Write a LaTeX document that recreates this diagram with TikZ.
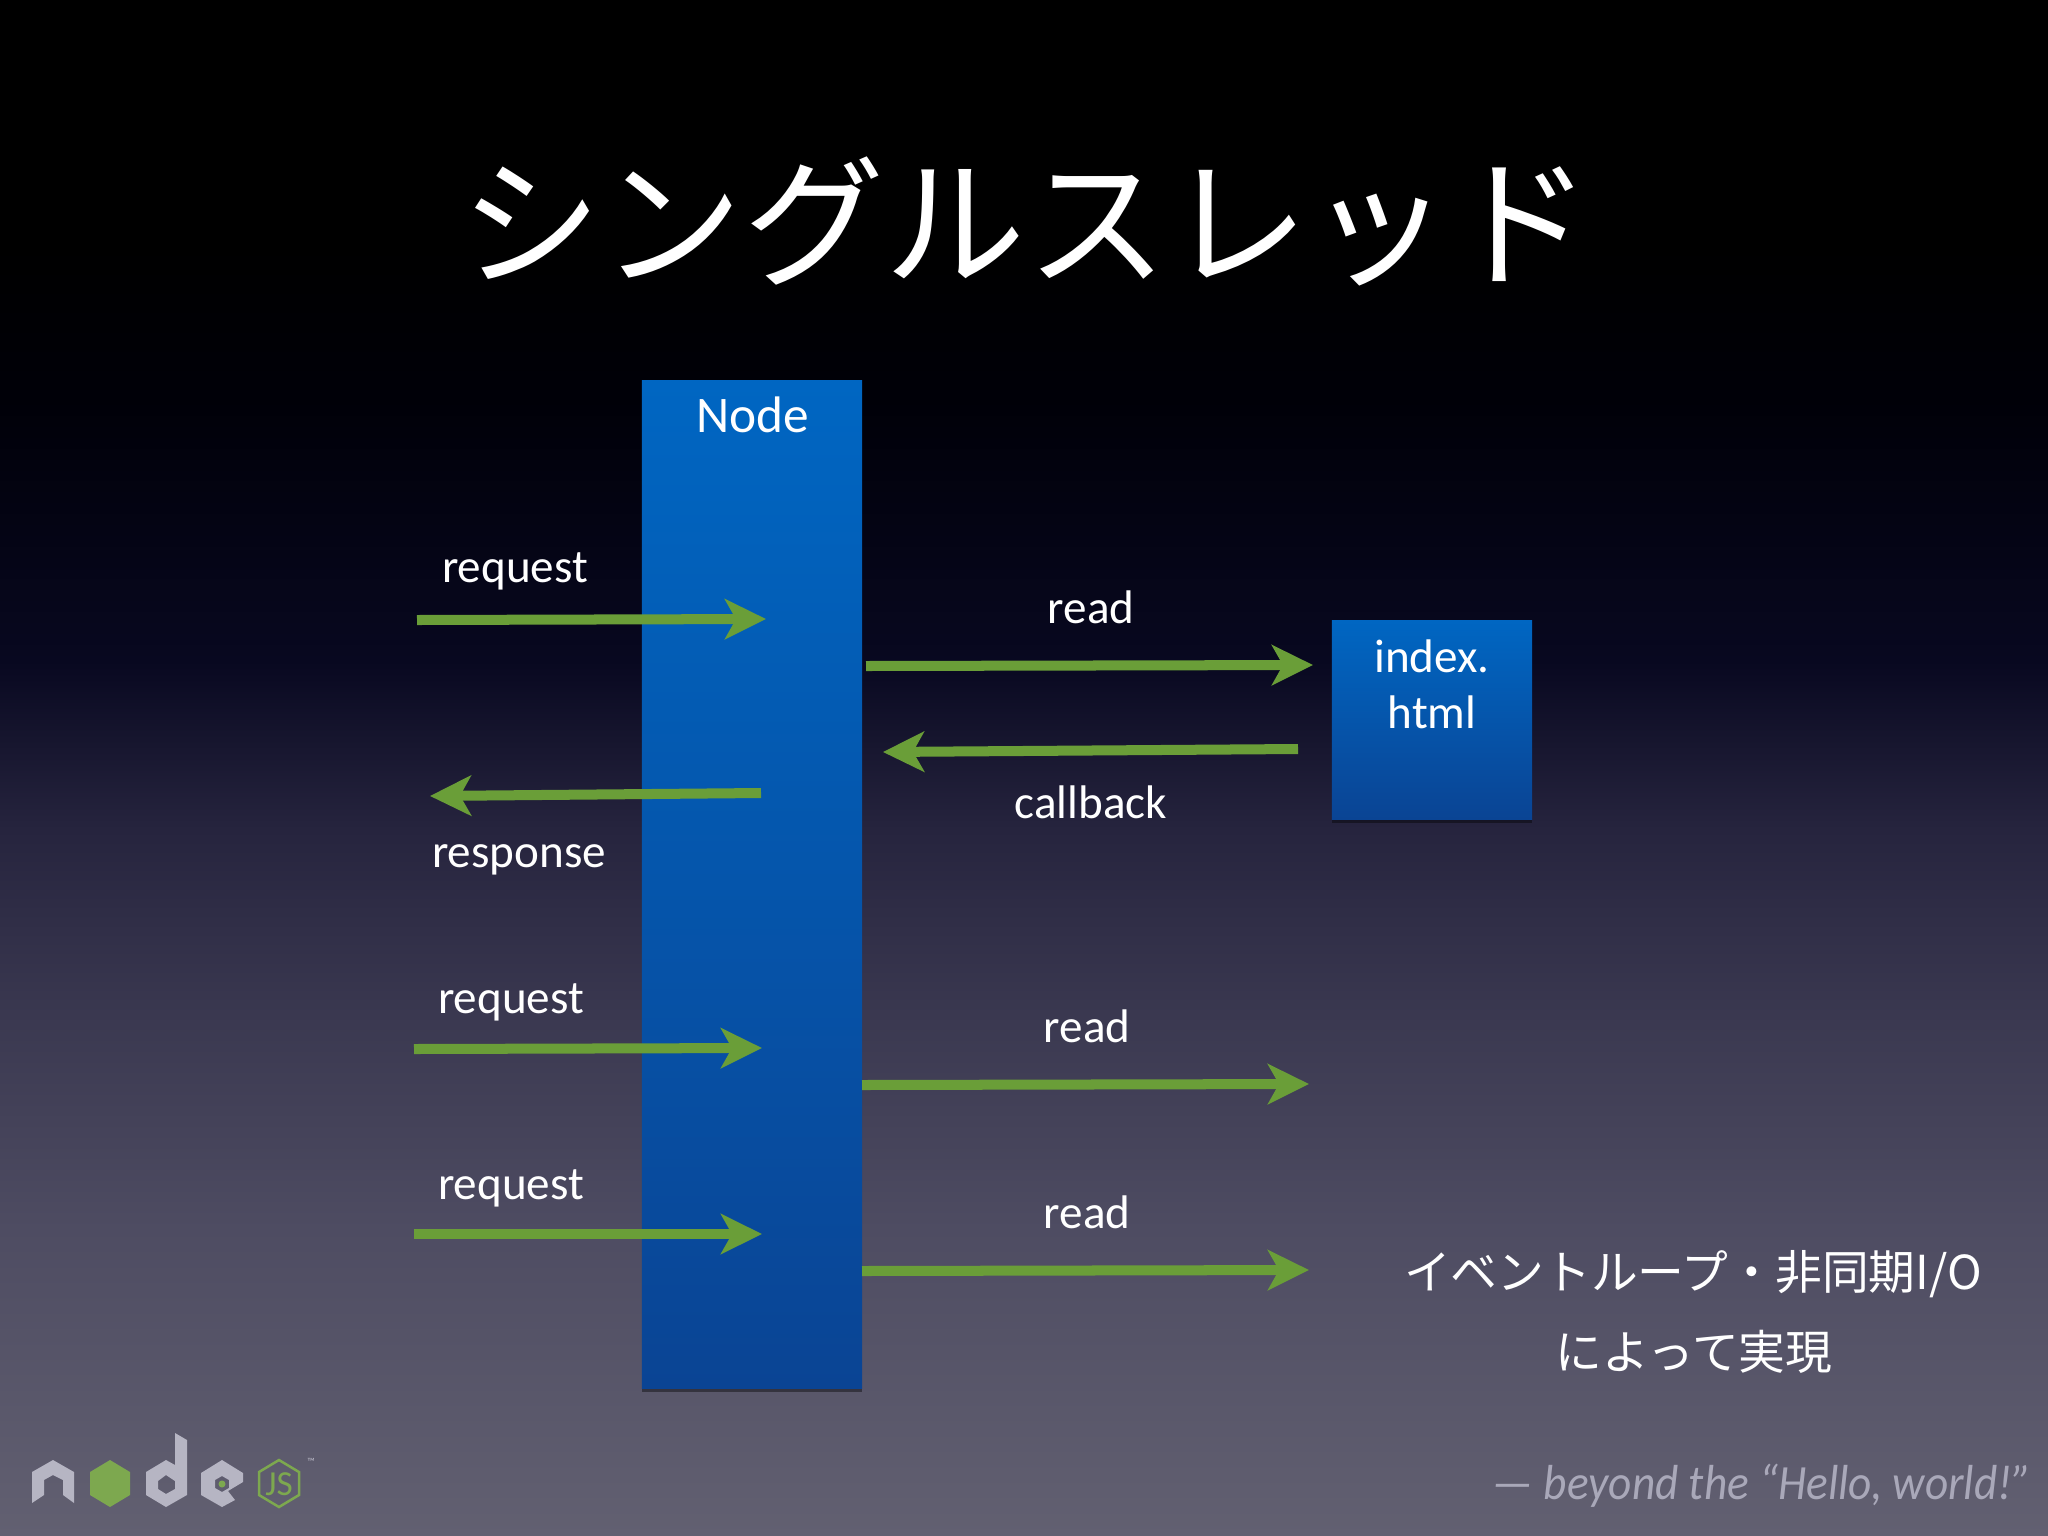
\documentclass[tikz,border=0pt]{standalone}
\usepackage{fontspec}
\setmainfont{Carlito}
\newfontfamily\cjk{Noto Sans CJK JP}
\usetikzlibrary{arrows.meta,shadows}

\definecolor{arrowgreen}{HTML}{6A9E38}
\definecolor{logogray}{HTML}{B6B5C3}
\definecolor{logogreen}{HTML}{7DA84F}
\definecolor{creditgray}{HTML}{A9A8B9}

\pgfdeclareverticalshading{slidebg}{100bp}{
  color(0bp)=({rgb,255:red,98;green,96;blue,113});
  color(25bp)=({rgb,255:red,98;green,96;blue,113});
  color(35bp)=({rgb,255:red,78;green,76;blue,98});
  color(42bp)=({rgb,255:red,58;green,56;blue,80});
  color(48bp)=({rgb,255:red,38;green,36;blue,62});
  color(53.5bp)=({rgb,255:red,8;green,8;blue,32});
  color(62bp)=({rgb,255:red,0;green,0;blue,8});
  color(67bp)=(black);
  color(100bp)=(black)}
\pgfdeclareverticalshading{bluebox}{100bp}{
  color(0bp)=({rgb,255:red,10;green,68;blue,148});
  color(25bp)=({rgb,255:red,10;green,68;blue,148});
  color(75bp)=({rgb,255:red,0;green,102;blue,194});
  color(100bp)=({rgb,255:red,0;green,102;blue,194})}

\tikzset{
  bluerect/.style={rectangle,shading=bluebox,inner sep=0pt,
    drop shadow={shadow xshift=0pt,shadow yshift=-1pt,fill=black,opacity=0.4}},
  label/.style={text=white,anchor=base,font=\fontsize{13.4pt}{16pt}\selectfont,inner sep=0pt},
  notetext/.style={label,font=\cjk\fontsize{13.3pt}{16pt}\selectfont},
  flow/.style={draw=arrowgreen,line width=0.1cm,
    -{Stealth[length=0.41cm,width=0.40cm,inset=0.11cm]}},
  logopart/.style={fill=logogray,even odd rule}
}

\begin{document}
\begin{tikzpicture}[x=0.01cm,y=-0.01cm]
  \useasboundingbox (0, 0) rectangle (2048, 1536);
  \shade[shading=slidebg] (0, 0) rectangle (2048, 1536);

  % title
  \node[text=white,anchor=base,inner sep=0pt,font=\cjk\fontsize{40.2pt}{42pt}\selectfont]
    (title) at (1026, 275) {シングルスレッド};

  % boxes
  \node[bluerect,minimum width=2.2cm,minimum height=10.07cm] (nodebar) at (752, 884.5) {};
  \node[bluerect,minimum width=2.0cm,minimum height=1.98cm] (indexbox) at (1432, 720) {};
  \node[label,font=\fontsize{14.6pt}{16pt}\selectfont] (nodelabel) at (753, 432) {Node};
  \node[label] (indexlabel) at (1432, 672) {index.};
  \node[label] (htmllabel) at (1432, 728) {html};

  % free ends of the arrows
  \coordinate (reqa) at (417, 620);
  \coordinate (reqatip) at (766, 619);
  \coordinate (reada) at (866, 666);
  \coordinate (readatip) at (1313, 665);
  \coordinate (cb) at (1298, 749);
  \coordinate (cbtip) at (883, 752);
  \coordinate (resp) at (761, 793);
  \coordinate (resptip) at (430, 796);
  \coordinate (reqb) at (414, 1049);
  \coordinate (reqbtip) at (762, 1048);
  \coordinate (reqc) at (414, 1234);
  \coordinate (reqctip) at (762, 1234);
  \coordinate (readb) at (862, 1085);
  \coordinate (readbtip) at (1309, 1084);
  \coordinate (readc) at (862, 1271);
  \coordinate (readctip) at (1309, 1270);

  \draw[flow] (reqa) -- (reqatip);
  \draw[flow] (reada) -- (readatip);
  \draw[flow] (cb) -- (cbtip);
  \draw[flow] (resp) -- (resptip);
  \draw[flow] (reqb) -- (reqbtip);
  \draw[flow] (reqc) -- (reqctip);
  \draw[flow] (readb) -- (readbtip);
  \draw[flow] (readc) -- (readctip);

  % arrow labels
  \node[label] (reqalabel) at (515, 582) {request};
  \node[label] (readalabel) at (1091, 623) {read};
  \node[label] (cblabel) at (1091, 818) {callback};
  \node[label] (resplabel) at (519, 867) {response};
  \node[label] (reqblabel) at (511, 1013) {request};
  \node[label] (reqclabel) at (511, 1199) {request};
  \node[label] (readblabel) at (1087, 1042) {read};
  \node[label] (readclabel) at (1087, 1228) {read};

  % note
  \node[notetext] (notea) at (1693, 1289) {イベントループ・非同期I/O};
  \node[notetext] (noteb) at (1694, 1369) {によって実現};
  \node[anchor=base east,inner sep=0pt,text=creditgray,xscale=0.92,
    font=\itshape\fontsize{14pt}{16pt}\selectfont]
    (credit) at (2032, 1499) {— beyond the “Hello, world!”};

  % logo
  \fill[logopart] (32, 1472) -- (53, 1460) -- (74, 1472) -- (74, 1503) -- (63, 1495)
    -- (63, 1480) -- (53, 1475) -- (44, 1480) -- (44, 1495) -- (32, 1503) -- cycle;
  \fill[logogreen] (110, 1460) -- (130, 1472) -- (130, 1495) -- (110, 1507)
    -- (90, 1495) -- (90, 1472) -- cycle;
  \fill[logopart] (175, 1433) -- (187, 1440) -- (187, 1495) -- (166, 1507) -- (146, 1495)
    -- (146, 1472) -- (166, 1460) -- (175, 1465) -- cycle
    (166, 1475) -- (175, 1481) -- (175, 1489) -- (166, 1494) -- (158, 1489) -- (158, 1481) -- cycle;
  \fill[logopart] (222, 1460) -- (243, 1473) -- (243, 1482) -- (228, 1491) -- (235, 1500)
    -- (222, 1507) -- (201, 1495) -- (201, 1473) -- cycle
    (222, 1476) -- (229, 1480) -- (229, 1488) -- (222, 1492) -- (215, 1488) -- (215, 1480) -- cycle;
  \fill[logogreen] (222, 1484) circle (3.5);
  \draw[logogreen,line width=0.025cm] (279, 1460) -- (299, 1472) -- (299, 1495) -- (279, 1507)
    -- (259, 1495) -- (259, 1472) -- cycle;
  \node[inner sep=0pt,text=logogreen,font=\fontsize{10pt}{11pt}\selectfont] (jslogo) at (279, 1484) {JS};
  \node[inner sep=0pt,text=logogray,font=\fontsize{3pt}{4pt}\selectfont] (tmlogo) at (311, 1462) {™};
\end{tikzpicture}
\end{document}
